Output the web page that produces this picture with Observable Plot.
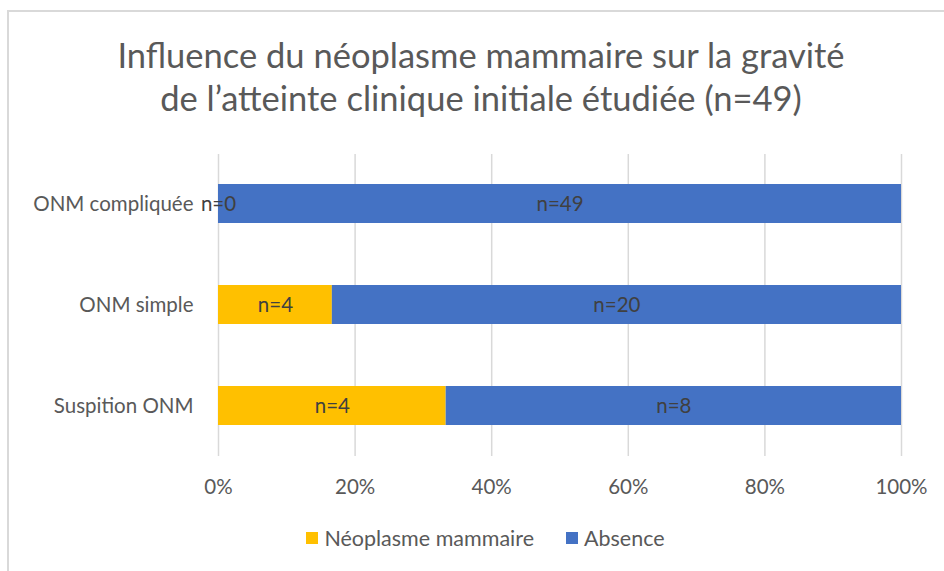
<!DOCTYPE html>
<html>
<head>
<meta charset="utf-8">
<script src="https://cdn.jsdelivr.net/npm/d3@7"></script>
<script src="https://cdn.jsdelivr.net/npm/@observablehq/plot@0.6"></script>
<style>
  html, body { margin: 0; padding: 0; background: #fff; }
  #wrap { position: relative; width: 944px; height: 571px; overflow: hidden; font-family: Lato, "Noto Sans", sans-serif; }
  #frame { position: absolute; left: 7px; top: 10px; width: 960px; height: 600px; border-top: 2px solid #d9d9d9; border-left: 2px solid #d9d9d9; box-sizing: border-box; }
  #title { position: absolute; left: 0; top: 33px; width: 962px; text-align: center; font-size: 34.5px; line-height: 43px; color: #595959; }
  #chart { position: absolute; left: 0; top: 0; }
  #legend { position: absolute; left: 0; top: 523px; width: 971px; text-align: center; font-size: 21.5px; color: #595959; }
  #legend span.item { display: inline-flex; align-items: center; margin: 0 16px; }
  #legend span.sw { display: inline-block; width: 12px; height: 12px; margin-right: 6px; }
</style>
</head>
<body>
<div id="wrap">
  <div id="frame"></div>
  <div id="title">Influence du néoplasme mammaire sur la gravité<br>de l’atteinte clinique initiale étudiée (n=49)</div>
  <div id="chart"></div>
  <div id="legend"></div>
</div>
<script>
const categories = ["ONM compliquée", "ONM simple", "Suspition ONM"];
const series = ["Néoplasme mammaire", "Absence"];
const neoplasme = [0, 4, 4];
const absence = [49, 20, 8];
const colors = ["#FFC000", "#4472C4"];
const xTicks = [0, 0.2, 0.4, 0.6, 0.8, 1];

const data = [];
categories.forEach((c, i) => {
  data.push({cat: c, serie: series[0], value: neoplasme[i]});
  data.push({cat: c, serie: series[1], value: absence[i]});
});

const chart = Plot.plot({
  width: 944,
  height: 571,
  marginLeft: 218,
  marginRight: 43,
  marginTop: 154,
  marginBottom: 115,
  style: {fontFamily: "Lato, 'Noto Sans', sans-serif", fontSize: "20.5px", color: "#595959", background: "transparent"},
  x: {domain: [0, 1], ticks: xTicks, tickFormat: d3.format(".0%"), label: null},
  y: {domain: categories, label: null, paddingInner: 0.61, paddingOuter: 0.3},
  color: {domain: series, range: colors},
  marks: [
    Plot.gridX(xTicks, {stroke: "#d9d9d9", strokeOpacity: 1, strokeWidth: 1.5}),
    Plot.barX(data, Plot.stackX({x: "value", y: "cat", fill: "serie", offset: "normalize", order: series})),
    Plot.text(data, Plot.stackX({x: "value", y: "cat", z: "serie", offset: "normalize", order: series, text: d => "n=" + d.value, fill: "#404040", fontSize: 20.5})),
    Plot.axisX(xTicks, {tickSize: 0, tickPadding: 23, tickFormat: d3.format(".0%"), fill: "#595959", fontSize: 20.5, label: null}),
    Plot.axisY({tickSize: 0, tickPadding: 25, fill: "#595959", fontSize: 20.5, label: null})
  ]
});
document.getElementById("chart").appendChild(chart);

const legend = document.getElementById("legend");
series.forEach((s, i) => {
  const item = document.createElement("span");
  item.className = "item";
  const sw = document.createElement("span");
  sw.className = "sw";
  sw.style.background = colors[i];
  item.appendChild(sw);
  item.appendChild(document.createTextNode(s));
  legend.appendChild(item);
});
</script>
</body>
</html>
